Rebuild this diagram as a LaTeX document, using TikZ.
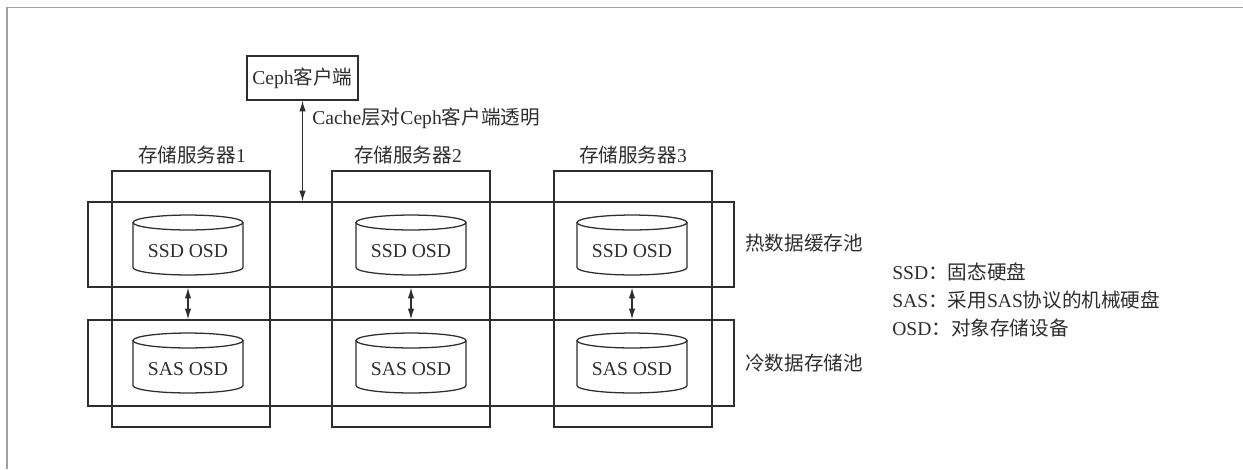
\documentclass[tikz,border=0pt]{standalone}
\usepackage{fontspec}
\setmainfont{Liberation Serif}
\newfontfamily\cjk{Noto Sans CJK SC}
\usetikzlibrary{arrows.meta}
\definecolor{ink}{HTML}{2E2E2E}
\definecolor{framegray}{HTML}{A0A0A0}
\newcommand{\mycyl}[4]{%
  \node[txt] (#1) at (#2,{#3+36}) {#4};
  \draw[ln] ({#2-55},{#3+7.5}) -- ({#2-55},{#3+52.5})
     arc[start angle=180,end angle=360,x radius=41.25pt,y radius=5.6pt]
     -- ({#2+55},{#3+7.5});
  \draw[ln] (#2,{#3+7.5}) ellipse [x radius=41.25pt,y radius=5.6pt];
}
\begin{document}
\begin{tikzpicture}[x=0.75pt,y=-0.75pt,
  txt/.style={font=\fontsize{14.7pt}{17pt}\selectfont, text=ink, inner sep=0pt},
  ln/.style={draw=ink, line width=0.95pt},
  boxr/.style={ln, rectangle, inner sep=0pt},
  arr/.style={ln, {Latex[length=8pt,width=4.8pt]}-{Latex[length=8pt,width=4.8pt]}}]
\useasboundingbox (0,0) rectangle (1243,469);
% frame
\draw[framegray, line width=1.1pt] (7,469) -- (7,7.5) -- (1243,7.5);
% client
\node[boxr, minimum width=83.25pt, minimum height=33pt, font=\fontsize{14.7pt}{17pt}\selectfont, text=ink] (ceph) at (302.5,78) {Ceph{\cjk 客户端}};
% servers
\node[boxr, minimum width=118.5pt, minimum height=192pt] (s1) at (191,299) {};
\node[boxr, minimum width=118.5pt, minimum height=192pt] (s2) at (411,299) {};
\node[boxr, minimum width=118.5pt, minimum height=192pt] (s3) at (633,299) {};
\node[txt] (l1) at (192,155) {{\cjk 存储服务器}1};
\node[txt] (l2) at (408,155) {{\cjk 存储服务器}2};
\node[txt] (l3) at (633,155) {{\cjk 存储服务器}3};
% pools
\node[boxr, minimum width=484.5pt, minimum height=63.75pt] (hot) at (411,244.5) {};
\node[boxr, minimum width=484.5pt, minimum height=64.5pt] (cold) at (411,363) {};
\node[txt, anchor=west] (hotl) at (745,243) {\cjk 热数据缓存池};
\node[txt, anchor=west] (coldl) at (745,363) {\cjk 冷数据存储池};
% cylinders
\mycyl{ssd1}{188}{215}{SSD OSD}
\mycyl{ssd2}{411}{215}{SSD OSD}
\mycyl{ssd3}{632}{215}{SSD OSD}
\mycyl{sas1}{188}{333}{SAS OSD}
\mycyl{sas2}{411}{333}{SAS OSD}
\mycyl{sas3}{632}{333}{SAS OSD}
% arrows
\draw[arr] (ceph.south) -- (ceph.south |- hot.north);
\node[txt, anchor=west] (cache) at (312,118) {Cache{\cjk 层对}Ceph{\cjk 客户端透明}};
\draw[arr] (ssd1 |- hot.south) -- (ssd1 |- cold.north);
\draw[arr] (ssd2 |- hot.south) -- (ssd2 |- cold.north);
\draw[arr] (ssd3 |- hot.south) -- (ssd3 |- cold.north);
% legend
\node[txt, anchor=west] (g1) at (892,272) {SSD{\cjk ：固态硬盘}};
\node[txt, anchor=west] (g2) at (892,300) {SAS{\cjk ：采用}SAS{\cjk 协议的机械硬盘}};
\node[txt, anchor=west] (g3) at (892,328) {OSD{\cjk ：对象存储设备}};
\end{tikzpicture}
\end{document}
